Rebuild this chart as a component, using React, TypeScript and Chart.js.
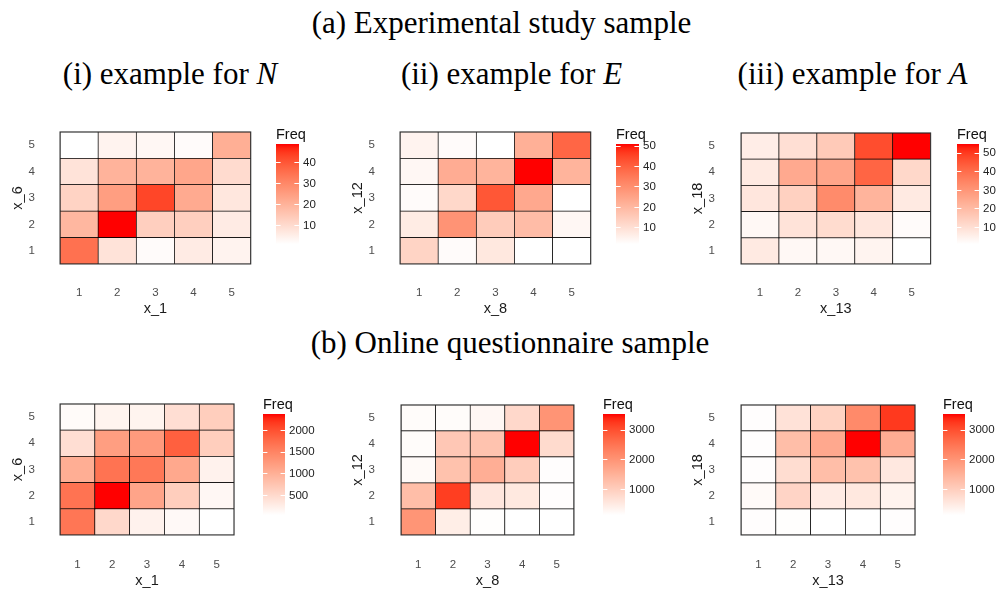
import React, { useEffect, useRef } from 'react';
import { Chart, registerables } from 'chart.js';

Chart.register(...registerables);

// Response levels on both axes
const xLevels = ['1', '2', '3', '4', '5'];
const yLevels = ['1', '2', '3', '4', '5'];

// Cross-tab frequencies: one row per y level (1 at the bottom .. 5 at the top),
// each row lists x levels 1..5.
const expN = [
  [35, 8, 2, 6, 4],
  [19, 49, 13, 13, 6],
  [12, 25, 43, 22, 7],
  [8, 20, 20, 23, 10],
  [1, 4, 3, 2, 21],
];
const expE = [
  [13, 3, 8, 2, 2],
  [7, 29, 15, 19, 4],
  [3, 12, 42, 24, 2],
  [4, 23, 21, 51, 21],
  [5, 3, 2, 22, 39],
];
const expA = [
  [7, 3, 3, 4, 1],
  [3, 9, 11, 8, 2],
  [8, 14, 33, 22, 7],
  [7, 25, 26, 42, 12],
  [6, 10, 16, 47, 55],
];
const onlineN = [
  [1650, 520, 210, 120, 50],
  [1680, 2380, 1140, 650, 150],
  [1030, 1680, 1630, 1100, 210],
  [450, 1215, 1260, 1870, 650],
  [100, 190, 190, 450, 650],
];
const onlineE = [
  [2000, 450, 160, 140, 140],
  [1300, 3210, 580, 540, 170],
  [230, 1230, 1570, 1030, 170],
  [200, 1130, 1200, 3550, 790],
  [200, 200, 280, 830, 2015],
];
const onlineA = [
  [170, 165, 140, 140, 170],
  [230, 900, 500, 560, 360],
  [170, 740, 1300, 1230, 550],
  [170, 1300, 1670, 3550, 1600],
  [170, 650, 930, 2180, 3250],
];

// Colour-bar tick values
const expTicksN = [10, 20, 30, 40];
const expTicksE = [10, 20, 30, 40, 50];
const expTicksA = [10, 20, 30, 40, 50];
const onlineTicksN = [500, 1000, 1500, 2000];
const onlineTicksE = [1000, 2000, 3000];
const onlineTicksA = [1000, 2000, 3000];

const SANS = '"Liberation Sans", Arial, Helvetica, sans-serif';
const SERIF = '"Liberation Serif", "Times New Roman", serif';
const TICK_SIZE = 11.5;
const TITLE_SIZE = 14.5;

// white -> red ramp interpolated in CIELAB
const LOW_LAB = [100, 0, 0];
const HIGH_LAB = [53.2408, 80.0925, 67.2032];

function labToHex(L: number, a: number, b: number): string {
  const fy = (L + 16) / 116;
  const fx = fy + a / 500;
  const fz = fy - b / 200;
  const eps = 216 / 24389;
  const kappa = 24389 / 27;
  const inv = (f: number) => (f * f * f > eps ? f * f * f : (116 * f - 16) / kappa);
  const X = 0.95047 * inv(fx);
  const Y = L > kappa * eps ? fy * fy * fy : L / kappa;
  const Z = 1.08883 * inv(fz);
  const lin = [
    3.2404542 * X - 1.5371385 * Y - 0.4985314 * Z,
    -0.969266 * X + 1.8760108 * Y + 0.041556 * Z,
    0.0556434 * X - 0.2040259 * Y + 1.0572252 * Z,
  ];
  const toByte = (c: number) => {
    const v = c <= 0.0031308 ? 12.92 * c : 1.055 * Math.pow(c, 1 / 2.4) - 0.055;
    return Math.max(0, Math.min(255, Math.round(v * 255)));
  };
  return 'rgb(' + lin.map(toByte).join(',') + ')';
}

function rampColor(t: number): string {
  const k = Math.max(0, Math.min(1, t));
  return labToHex(
    LOW_LAB[0] + (HIGH_LAB[0] - LOW_LAB[0]) * k,
    LOW_LAB[1] + (HIGH_LAB[1] - LOW_LAB[1]) * k,
    LOW_LAB[2] + (HIGH_LAB[2] - LOW_LAB[2]) * k,
  );
}

const framePlugin = {
  id: 'frame',
  afterDatasetsDraw(chart: any) {
    const { ctx, chartArea } = chart;
    const { left, top, right, bottom } = chartArea;
    ctx.save();
    ctx.strokeStyle = '#333';
    ctx.lineWidth = 1;
    ctx.strokeRect(left, top, right - left, bottom - top);
    ctx.restore();
  },
};

type Box = {
  plot: number[]; // left, top, right, bottom of the tile area
  yTickRight: number;
  yTitleX: number;
  xTickY: number;
  xTitleY: number;
  bar: number[]; // left, top, right, bottom of the colour bar
};

const Y_AXIS_W = 60;
const X_AXIS_H = 58;
const PAD_TOP = 16;

function Heatmap({ values, xTitle, yTitle, box }: { values: number[][]; xTitle: string; yTitle: string; box: Box }) {
  const ref = useRef<HTMLCanvasElement>(null);
  const [L, T, R, B] = box.plot;
  const left = L - Y_AXIS_W;
  const top = T - PAD_TOP;
  const width = R - left;
  const height = B + X_AXIS_H - top;

  useEffect(() => {
    const flat = values.flat();
    const lo = Math.min(...flat);
    const hi = Math.max(...flat);
    const tickFont = { family: SANS, size: TICK_SIZE };
    const titleFont = { family: SANS, size: TITLE_SIZE };
    const halfTick = (TICK_SIZE * 1.2) / 2;
    const halfTitle = (TITLE_SIZE * 1.2) / 2;
    const chart = new Chart(ref.current as HTMLCanvasElement, {
      type: 'bar',
      data: {
        labels: xLevels,
        datasets: yLevels.map((yl, ri) => ({
          label: yl,
          data: xLevels.map(() => [Number(yl) - 0.5, Number(yl) + 0.5]),
          backgroundColor: values[ri].map((v) => rampColor((v - lo) / (hi - lo))),
          borderColor: '#000',
          borderWidth: 0.7,
          borderSkipped: false,
          grouped: false,
          barPercentage: 1,
          categoryPercentage: 1,
        })),
      } as any,
      options: {
        animation: false,
        responsive: false,
        devicePixelRatio: 1,
        events: [],
        layout: { padding: { top: PAD_TOP, right: 0, bottom: 0, left: 0 } },
        plugins: { legend: { display: false }, tooltip: { enabled: false }, title: { display: false } },
        scales: {
          x: {
            type: 'category',
            offset: true,
            grid: { display: false, drawTicks: false },
            border: { display: false },
            ticks: { font: tickFont, color: '#4d4d4d', padding: box.xTickY - B - halfTick, maxRotation: 0 },
            title: {
              display: true,
              text: xTitle,
              font: titleFont,
              color: '#1a1a1a',
              padding: { top: 0, bottom: B + X_AXIS_H - box.xTitleY - halfTitle },
            },
            afterFit: (s: any) => {
              s.height = X_AXIS_H;
            },
          },
          y: {
            type: 'linear',
            min: 0.5,
            max: 5.5,
            afterBuildTicks: (s: any) => {
              s.ticks = yLevels.map((l) => ({ value: Number(l) }));
            },
            grid: { display: false, drawTicks: false },
            border: { display: false },
            ticks: { font: tickFont, color: '#4d4d4d', padding: L - box.yTickRight, callback: (v: any) => String(v) },
            title: {
              display: true,
              text: yTitle,
              font: titleFont,
              color: '#1a1a1a',
              padding: { top: box.yTitleX - left - halfTitle, bottom: 0 },
            },
            afterFit: (s: any) => {
              s.width = Y_AXIS_W;
            },
          },
        },
      } as any,
      plugins: [framePlugin],
    });
    return () => chart.destroy();
  }, []);

  return (
    <div style={{ position: 'absolute', left, top, width, height }}>
      <canvas ref={ref} width={width} height={height} />
    </div>
  );
}

const LEGEND_HEAD = 22;
const LEGEND_AXIS_W = 44;

function ColorBar({ values, ticks, box }: { values: number[][]; ticks: number[]; box: Box }) {
  const ref = useRef<HTMLCanvasElement>(null);
  const [bl, bt, br, bb] = box.bar;
  const barW = br - bl;
  const left = bl;
  const top = bt - LEGEND_HEAD;
  const width = barW + LEGEND_AXIS_W;
  const height = bb - top + 2;

  useEffect(() => {
    const flat = values.flat();
    const lo = Math.min(...flat);
    const hi = Math.max(...flat);
    const lh = TITLE_SIZE * 1.2;
    const padTop = 12.7 - lh / 2;
    const chart = new Chart(ref.current as HTMLCanvasElement, {
      type: 'bar',
      data: {
        labels: ['Freq'],
        datasets: [
          {
            data: [[lo, hi]],
            backgroundColor: (c: any) => {
              const ch = c.chart;
              if (!ch.chartArea) return '#fff';
              const ys = ch.scales.y;
              const g = ch.ctx.createLinearGradient(0, ys.getPixelForValue(lo), 0, ys.getPixelForValue(hi));
              for (let i = 0; i <= 24; i++) g.addColorStop(i / 24, rampColor(i / 24));
              return g;
            },
            borderWidth: 0,
            barPercentage: 1,
            categoryPercentage: 1,
          },
        ],
      } as any,
      options: {
        animation: false,
        responsive: false,
        devicePixelRatio: 1,
        events: [],
        layout: { padding: { top: 0, right: 0, bottom: 2, left: 0 } },
        plugins: {
          legend: { display: false },
          tooltip: { enabled: false },
          title: {
            display: true,
            text: 'Freq',
            align: 'start',
            color: '#111',
            font: { family: SANS, size: TITLE_SIZE, weight: 'normal' },
            padding: { top: padTop, bottom: LEGEND_HEAD - lh - padTop },
          },
        },
        scales: {
          x: { display: false },
          y: {
            position: 'right',
            min: lo,
            max: hi,
            afterBuildTicks: (s: any) => {
              s.ticks = ticks.map((v) => ({ value: v }));
            },
            grid: {
              display: true,
              drawTicks: false,
              drawOnChartArea: true,
              color: '#ffffff',
              lineWidth: 1,
              z: 1,
            },
            border: { display: false, dash: [barW / 5, (barW * 3) / 5] },
            ticks: { font: { family: SANS, size: TICK_SIZE }, color: '#222', padding: 4, callback: (v: any) => String(v) },
            afterFit: (s: any) => {
              s.width = LEGEND_AXIS_W;
            },
          },
        },
      } as any,
    });
    return () => chart.destroy();
  }, []);

  return (
    <div style={{ position: 'absolute', left, top, width, height }}>
      <canvas ref={ref} width={width} height={height} />
    </div>
  );
}

function Caption({ cx, top, children }: { cx: number; top: number; children: React.ReactNode }) {
  return (
    <div
      style={{
        position: 'absolute',
        left: cx,
        top,
        transform: 'translateX(-50%)',
        whiteSpace: 'nowrap',
        fontFamily: SERIF,
        fontSize: 31,
        lineHeight: '31px',
        color: '#000',
      }}
    >
      {children}
    </div>
  );
}

const boxes: Box[] = [
  { plot: [60, 116, 257, 264], yTickRight: 35, yTitleX: 18, xTickY: 293, xTitleY: 309, bar: [276, 144, 299, 253] },
  { plot: [400, 116, 597, 264], yTickRight: 375, yTitleX: 358, xTickY: 293, xTitleY: 309, bar: [616, 144, 639, 253] },
  { plot: [741, 116, 937, 264], yTickRight: 715, yTitleX: 698, xTickY: 293, xTitleY: 309, bar: [957, 144, 979, 253] },
  { plot: [60, 388, 243, 535], yTickRight: 35, yTitleX: 18, xTickY: 565, xTitleY: 581, bar: [263, 414, 285, 524] },
  { plot: [401, 388, 583, 535], yTickRight: 375, yTitleX: 358, xTickY: 565, xTitleY: 581, bar: [603, 414, 625, 524] },
  { plot: [741, 388, 924, 535], yTickRight: 715, yTitleX: 698, xTickY: 565, xTitleY: 581, bar: [943, 414, 965, 524] },
];

const panels = [
  { values: expN, ticks: expTicksN, xTitle: 'x_1', yTitle: 'x_6' },
  { values: expE, ticks: expTicksE, xTitle: 'x_8', yTitle: 'x_12' },
  { values: expA, ticks: expTicksA, xTitle: 'x_13', yTitle: 'x_18' },
  { values: onlineN, ticks: onlineTicksN, xTitle: 'x_1', yTitle: 'x_6' },
  { values: onlineE, ticks: onlineTicksE, xTitle: 'x_8', yTitle: 'x_12' },
  { values: onlineA, ticks: onlineTicksA, xTitle: 'x_13', yTitle: 'x_18' },
];

export default function App() {
  return (
    <div
      style={{
        position: 'absolute',
        left: 0,
        top: 0,
        width: 1003,
        height: 592,
        background: '#fff',
        overflow: 'hidden',
      }}
    >
      <Caption cx={501.5} top={6.7}>(a) Experimental study sample</Caption>
      <Caption cx={170} top={58}>
        (i) example for <i>N</i>
      </Caption>
      <Caption cx={511.5} top={58}>
        (ii) example for <i>E</i>
      </Caption>
      <Caption cx={852.5} top={58}>
        (iii) example for <i>A</i>
      </Caption>
      <Caption cx={510} top={327.3}>(b) Online questionnaire sample</Caption>
      {panels.map((p, i) => (
        <React.Fragment key={i}>
          <Heatmap values={p.values} xTitle={p.xTitle} yTitle={p.yTitle} box={boxes[i]} />
          <ColorBar values={p.values} ticks={p.ticks} box={boxes[i]} />
        </React.Fragment>
      ))}
    </div>
  );
}
